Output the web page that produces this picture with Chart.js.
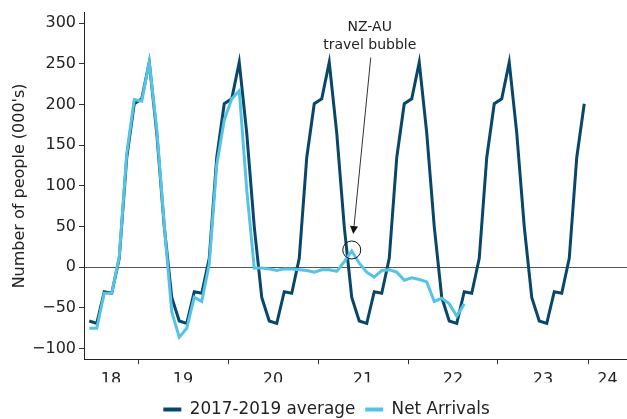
<!DOCTYPE html>
<html>
<head>
<meta charset="utf-8">
<script src="https://cdn.jsdelivr.net/npm/chart.js@4/dist/chart.umd.min.js"></script>
<style>
  html, body { margin: 0; padding: 0; background: #fff; }
  #wrap { width: 627px; height: 419px; }
</style>
</head>
<body>
<div id="wrap"><canvas id="chart"></canvas></div>
<script>
// first month of both series
const startMonth = "2018-06"

// 2017-2019 average, Jun 2018 .. Dec 2023 (000's)
const average = [
    -66, -69, -30, -32, 11, 135, 201,
    207, 252, 165, 50, -37, -66, -69, -30, -32, 11, 135, 201,
    207, 252, 165, 50, -37, -66, -69, -30, -32, 11, 135, 201,
    207, 252, 165, 50, -37, -66, -69, -30, -32, 11, 135, 201,
    207, 252, 165, 50, -37, -66, -69, -30, -32, 11, 135, 201,
    207, 252, 165, 50, -37, -66, -69, -30, -32, 11, 135, 201
]

// Net arrivals, Jun 2018 .. Aug 2022 (000's)
const netArrivals = [
    -75, -75, -32, -32, 13, 140, 206,
    204, 252, 170, 52, -55, -86, -75, -37, -42, 4, 126, 181,
    207, 217, 95, -1, -1, -2, -4, -2, -2, -3, -4, -6,
    -3, -3, -5, 7, 20, 5, -6, -12, -4, -3, -6, -16,
    -13, -15, -18, -42, -38, -45, -60, -45
]

const yearLabels = ["18", "19", "20", "21", "22", "23", "24"]
const yTicks = [-100, -50, 0, 50, 100, 150, 200, 250, 300]

const bubbleMonth = "2021-05"
const bubbleText = ["NZ-AU", "travel bubble"]

const DARK = "#08476b"
const LIGHT = "#55c3e6"
const FONT = "DejaVu Sans"

// months counted from Jan 2019
function monthIndex(s) {
    const [yr, mo] = s.split("-").map(Number)
    return (yr - 2019) * 12 + (mo - 1)
}
const x0 = monthIndex(startMonth)
const toPoints = arr => arr.map((v, i) => ({ x: x0 + i, y: v }))

// year label -> tick value, filled in when the x ticks are built
const labelAt = new Map()

// nudge the legend a little right and down
const legendShift = {
    id: "legendShift",
    afterLayout(chart) {
        const l = chart.legend
        l.left += 13
        l.right += 13
        l.top += 9
        l.bottom += 9
    }
}

const bubbleNote = {
    id: "bubbleNote",
    afterDatasetsDraw(chart) {
        const { ctx, chartArea } = chart
        const { x, y } = chart.scales
        const i = monthIndex(bubbleMonth) - x0
        const px = x.getPixelForValue(x0 + i)
        const py = y.getPixelForValue(netArrivals[i])

        ctx.save()
        ctx.strokeStyle = "#111"
        ctx.lineWidth = 1
        ctx.beginPath()
        ctx.arc(px, py - 1, 9, 0, Math.PI * 2)
        ctx.stroke()

        ctx.font = "14px '" + FONT + "'"
        ctx.fillStyle = "#222"
        ctx.textAlign = "center"
        ctx.textBaseline = "middle"
        bubbleText.forEach((t, k) => ctx.fillText(t, px + 18, chartArea.top + 15 + k * 18))

        // arrow from the text down to the circle
        const ax = px + 19, ay = chartArea.top + 45
        const bx = px + 1.5, by = py - 17
        const ang = Math.atan2(by - ay, bx - ax)
        const head = 8
        ctx.strokeStyle = "#333"
        ctx.beginPath()
        ctx.moveTo(ax, ay)
        ctx.lineTo(bx - Math.cos(ang) * head, by - Math.sin(ang) * head)
        ctx.stroke()
        ctx.fillStyle = "#111"
        ctx.beginPath()
        ctx.moveTo(bx, by)
        ctx.lineTo(bx - Math.cos(ang) * head + Math.sin(ang) * 4, by - Math.sin(ang) * head - Math.cos(ang) * 4)
        ctx.lineTo(bx - Math.cos(ang) * head - Math.sin(ang) * 4, by - Math.sin(ang) * head + Math.cos(ang) * 4)
        ctx.closePath()
        ctx.fill()
        ctx.restore()
    }
}

Chart.defaults.font.family = FONT
Chart.defaults.font.size = 16
Chart.defaults.color = "#222"

new Chart(document.getElementById("chart"), {
    type: "line",
    data: {
        datasets: [{
            label: "2017-2019 average",
            data: toPoints(average),
            borderColor: DARK,
            backgroundColor: DARK,
            borderWidth: 3,
            pointRadius: 0,
            tension: 0,
            order: 2
        }, {
            label: "Net Arrivals",
            data: toPoints(netArrivals),
            borderColor: LIGHT,
            backgroundColor: LIGHT,
            borderWidth: 3,
            pointRadius: 0,
            tension: 0,
            order: 1
        }]
    },
    options: {
        responsive: true,
        maintainAspectRatio: false,
        animation: false,
        layout: { padding: { top: 10, right: 0, left: 0, bottom: 0 } },
        plugins: {
            tooltip: { enabled: false },
            legend: {
                position: "bottom",
                labels: {
                    boxWidth: 18,
                    boxHeight: 4,
                    padding: 10,
                    font: { size: 16.8 },
                    sort: (a, b) => a.datasetIndex - b.datasetIndex,
                    generateLabels: chart =>
                        Chart.defaults.plugins.legend.labels.generateLabels(chart)
                            .map(l => ({ ...l, lineWidth: 0 }))
                }
            }
        },
        scales: {
            x: {
                type: "linear",
                min: -7.7,
                max: 64.7,
                afterBuildTicks: axis => {
                    const ticks = []
                    labelAt.clear()
                    yearLabels.forEach((lab, k) => {
                        const start = (k - 1) * 12 - 0.5
                        const end = start + 12
                        if (k > 0) ticks.push({ value: start })
                        // centre each label on the visible part of its year
                        const c = (Math.max(start, axis.min) + Math.min(end, axis.max)) / 2
                        labelAt.set(c, lab)
                        ticks.push({ value: c })
                    })
                    axis.ticks = ticks
                },
                afterFit: axis => { axis.height = 23 },
                ticks: {
                    autoSkip: false,
                    maxRotation: 0,
                    padding: 6,
                    font: { size: 16 },
                    callback: v => labelAt.get(v) || ""
                },
                grid: {
                    drawOnChartArea: false,
                    tickLength: 5,
                    tickColor: c => (c.tick && labelAt.has(c.tick.value)) ? "rgba(0,0,0,0)" : "#333"
                },
                border: { display: true, color: "#222", width: 1 }
            },
            y: {
                min: -113,
                max: 313,
                afterBuildTicks: axis => { axis.ticks = yTicks.map(v => ({ value: v })) },
                afterFit: axis => { axis.width = 84 },
                ticks: {
                    padding: 3,
                    font: { size: 16 },
                    callback: v => v < 0 ? "\u2212" + Math.abs(v) : String(v)
                },
                grid: {
                    tickLength: 5,
                    tickColor: "#333",
                    color: c => (c.tick && c.tick.value === 0) ? "#555" : "rgba(0,0,0,0)",
                    lineWidth: 1
                },
                border: { display: true, color: "#222", width: 1 },
                title: {
                    display: true,
                    text: "Number of people (000's)",
                    font: { size: 16 },
                    padding: { top: 10, bottom: 0 }
                }
            }
        }
    },
    plugins: [legendShift, bubbleNote]
})
</script>
</body>
</html>
